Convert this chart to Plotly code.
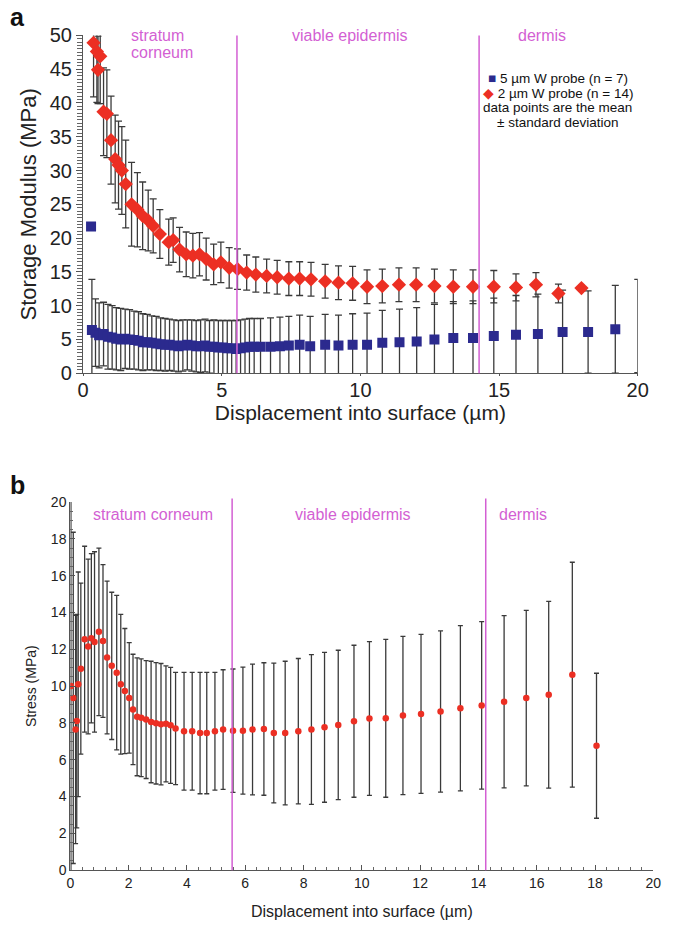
import plotly.graph_objects as go

# ---------------- data: panel a (storage modulus) ----------------
red_x = [0.38, 0.50, 0.54, 0.62, 0.74, 0.86, 1.01, 1.16, 1.28, 1.40, 1.54, 1.75, 1.96, 2.15, 2.35, 2.53,
         2.77, 3.09, 3.25, 3.48, 3.72, 3.96, 4.20, 4.44, 4.71, 4.97, 5.27, 5.57, 5.90, 6.23, 6.62, 7.00,
         7.42, 7.81, 8.22, 8.73, 9.21, 9.72, 10.24, 10.79, 11.39, 12.01, 12.67, 13.35, 14.06, 14.81,
         15.61, 16.33, 17.14, 17.97]
red_mean = [48.9, 47.6, 44.9, 46.9, 38.7, 38.4, 34.5, 31.7, 30.8, 30.0, 28.0, 25.0, 24.2, 23.3, 22.6, 21.8,
            20.6, 19.4, 19.7, 18.3, 17.6, 17.4, 17.6, 16.9, 16.1, 16.4, 15.6, 15.4, 14.9, 14.6, 14.4, 14.2,
            14.0, 14.0, 13.9, 13.6, 13.4, 13.3, 12.8, 12.9, 13.1, 13.1, 12.9, 12.8, 12.8, 12.8,
            12.7, 13.1, 11.8, 12.6]
red_sd = [8.0, 7.5, 5.0, 7.0, 6.5, 6.5, 6.5, 6.5, 6.5, 6.5, 6.5, 6.2, 5.5, 5.0, 4.5, 4.0,
          3.6, 3.4, 3.3, 3.3, 3.3, 3.3, 3.2, 3.1, 3.0, 3.0, 3.0, 3.0, 2.6, 2.6, 2.5, 2.5,
          2.5, 2.5, 2.5, 2.5, 2.5, 2.5, 2.5, 2.5, 2.5, 2.5, 2.5, 2.5, 2.5, 2.4,
          2.0, 1.8, 1.4, 0.4]

blue_x = [0.29, 0.32, 0.45, 0.58, 0.74, 0.90, 1.05, 1.20, 1.36, 1.52, 1.68, 1.84, 2.00, 2.16, 2.32, 2.48,
          2.64, 2.80, 2.96, 3.12, 3.28, 3.44, 3.60, 3.76, 3.92, 4.08, 4.24, 4.40, 4.56, 4.72, 4.88, 5.04,
          5.20, 5.36, 5.52, 5.68, 5.84, 6.00, 6.17, 6.40, 6.76, 7.10, 7.42, 7.81, 8.19, 8.73, 9.21, 9.72,
          10.24, 10.79, 11.41, 12.03, 12.67, 13.35, 14.06, 14.81, 15.61, 16.40, 17.29, 18.21, 19.19]
blue_mean = [21.7, 6.4, 6.0, 5.6, 5.8, 5.4, 5.3, 5.1, 5.0, 5.1, 5.0, 4.9, 4.8, 4.6, 4.6, 4.5,
             4.4, 4.3, 4.2, 4.2, 4.1, 4.0, 4.1, 4.2, 4.1, 4.0, 4.0, 4.1, 3.9, 3.9, 3.8, 3.8,
             3.7, 3.7, 3.6, 3.7, 3.8, 3.9, 3.9, 3.9, 3.9, 4.0, 4.1, 4.2, 4.0, 4.2, 4.1, 4.2,
             4.2, 4.5, 4.6, 4.7, 5.0, 5.2, 5.2, 5.5, 5.7, 5.8, 6.1, 6.1, 6.5]
blue_sd = [0.0, 7.5, 5.0, 4.8, 4.7, 4.8, 4.7, 4.6, 4.6, 4.4, 4.4, 4.3, 4.3, 4.2, 4.1, 4.0,
           4.0, 3.9, 3.9, 3.8, 3.8, 3.8, 3.8, 3.7, 3.8, 3.8, 3.9, 3.9, 3.9, 4.0, 4.0, 4.0,
           4.1, 4.1, 4.2, 4.2, 4.2, 4.2, 4.2, 4.2, 4.3, 4.3, 4.3, 4.4, 4.4, 4.5, 4.5, 4.6,
           4.7, 4.8, 4.9, 5.0, 5.2, 5.4, 5.5, 5.6, 5.8, 5.9, 6.2, 6.1, 6.5]
# last 5 µm reading at the axis end: only its error bar is visible in the figure
blue_edge_x = [20.0]
blue_edge_mean = [7.0]
blue_edge_sd = [6.9]

# ---------------- data: panel b (stress) ----------------
stress_x = [0.02, 0.10, 0.18, 0.22, 0.27, 0.36, 0.49, 0.61, 0.72, 0.83, 0.98, 1.12, 1.26, 1.42, 1.59,
            1.73, 1.87, 2.02, 2.15, 2.29, 2.43, 2.60, 2.77, 2.94, 3.11, 3.28, 3.44, 3.61, 3.90, 4.18,
            4.45, 4.68, 4.96, 5.24, 5.58, 5.92, 6.25, 6.64, 6.98, 7.37, 7.82, 8.27, 8.72, 9.19, 9.73,
            10.26, 10.82, 11.41, 12.03, 12.70, 13.38, 14.11, 14.88, 15.64, 16.41, 17.22, 18.05]
stress_mean = [10.0, 9.36, 7.64, 8.1, 10.1, 10.95, 12.55, 12.15, 12.6, 12.4, 12.95, 12.45, 11.55, 11.1, 10.73,
               10.1, 9.73, 9.36, 8.73, 8.33, 8.28, 8.18, 8.05, 7.98, 7.93, 7.95, 7.87, 7.7, 7.55, 7.55,
               7.45, 7.45, 7.55, 7.64, 7.58, 7.58, 7.64, 7.67, 7.45, 7.45, 7.55, 7.64, 7.76, 7.89, 8.09,
               8.24, 8.25, 8.4, 8.49, 8.62, 8.8, 8.95, 9.15, 9.35, 9.53, 10.62, 6.76]
stress_sd = [10.2, 9.0, 6.2, 5.8, 6.1, 4.65, 5.05, 4.75, 4.6, 4.9, 4.55, 4.15, 4.15, 4.0, 4.2,
             3.8, 3.4, 3.0, 3.0, 3.2, 3.2, 3.2, 3.3, 3.3, 3.3, 3.15, 3.15, 3.05, 3.2, 3.2,
             3.3, 3.3, 3.2, 3.25, 3.35, 3.45, 3.55, 3.6, 3.8, 3.9, 3.95, 4.07, 4.07, 4.06, 4.13,
             4.18, 4.29, 4.3, 4.32, 4.38, 4.49, 4.55, 4.68, 4.77, 5.07, 6.11, 3.94]

top_layer_bounds = [5.55, 14.28]
bottom_layer_bounds = [5.55, 14.25]
top_zone_labels = ["stratum", "corneum", "viable epidermis", "dermis"]
top_zone_x = [1.65, 1.65, 7.45, 15.6]
top_zone_row = [0, 1, 0, 0]
bottom_zone_labels = ["stratum corneum", "viable epidermis", "dermis"]
bottom_zone_x = [0.72, 7.65, 14.65]

series_names = ["5 µm W probe (n = 7)", "2 µm W probe (n = 14)"]
legend_note = ["data points are the mean", "± standard deviation"]

FONT = "Liberation Sans, Arial, sans-serif"
RED = "#ec2f23"
BLUE = "#2b2a8e"
BAR = "#3a3a3a"
PINK = "#d35fd3"

fig = go.Figure()

fig.add_trace(go.Scatter(
    x=blue_edge_x, y=blue_edge_mean, mode="markers", name=series_names[0],
    marker=dict(symbol="square", size=10, color=BLUE, opacity=0),
    error_y=dict(type="data", array=blue_edge_sd, color=BAR, thickness=1.3, width=3.5),
    xaxis="x", yaxis="y", showlegend=False, hoverinfo="skip"))
fig.add_trace(go.Scatter(
    x=blue_x, y=blue_mean, mode="markers", name=series_names[0],
    marker=dict(symbol="square", size=10, color=BLUE),
    error_y=dict(type="data", array=blue_sd, color=BAR, thickness=1.3, width=3.5),
    xaxis="x", yaxis="y", showlegend=False))
fig.add_trace(go.Scatter(
    x=red_x, y=red_mean, mode="markers", name=series_names[1],
    marker=dict(symbol="diamond", size=11, color=RED),
    error_y=dict(type="data", array=red_sd, color=BAR, thickness=1.3, width=3.5),
    xaxis="x", yaxis="y", showlegend=False))
fig.add_trace(go.Scatter(
    x=stress_x, y=stress_mean, mode="markers", name="Stress",
    marker=dict(symbol="circle", size=6.5, color=RED),
    error_y=dict(type="data", array=stress_sd, color=BAR, thickness=1.3, width=2.5),
    xaxis="x2", yaxis="y2", showlegend=False))

W, H = 678, 928
def px(v):
    return v / W
def py(v):
    return (H - v) / H

axis_common = dict(showgrid=False, zeroline=False, showline=True, linecolor="#555", linewidth=1.2,
                   color="#222")

fig.update_layout(
    width=W, height=H, margin=dict(l=0, r=0, t=0, b=0),
    paper_bgcolor="white", plot_bgcolor="white",
    font=dict(family=FONT, color="#222"),
    showlegend=False,
    xaxis=dict(domain=[px(79), px(648)], anchor="y", range=[0, 20], tickvals=[0, 5, 10, 15, 20],
               ticks="outside", ticklen=2, tickcolor="#555", tickfont=dict(size=20),
               ticklabelstandoff=-3,
               title=dict(text="Displacement into surface (µm)", font=dict(size=21), standoff=0),
               **axis_common),
    yaxis=dict(domain=[py(371), py(25)], anchor="x", range=[0, 50], tickvals=list(range(0, 51, 5)),
               ticks="outside", ticklen=6, tickcolor="#555", tickfont=dict(size=20),
               minor=dict(dtick=0.5, ticks="outside", ticklen=5, tickcolor="#666"),
               title=dict(text="Storage Modulus (MPa)", font=dict(size=22), standoff=6),
               **axis_common),
    xaxis2=dict(domain=[px(66), px(664)], anchor="y2", range=[0, 20], tickvals=list(range(0, 21, 2)),
                ticks="inside", ticklen=5, tickcolor="#555", tickfont=dict(size=14),
                minor=dict(dtick=0.4, ticks="inside", ticklen=3, tickcolor="#666"),
                title=dict(text="Displacement into surface (µm)", font=dict(size=16), standoff=15),
                **axis_common),
    yaxis2=dict(domain=[py(880), py(503)], anchor="x2", range=[0, 20], tickvals=list(range(0, 21, 2)),
                ticks="inside", ticklen=5, tickcolor="#555", tickfont=dict(size=14),
                minor=dict(dtick=0.5, ticks="inside", ticklen=3, tickcolor="#666"),
                title=dict(text="Stress (MPa)", font=dict(size=14), standoff=10),
                **axis_common),
)

shapes = []
for b in top_layer_bounds:
    shapes.append(dict(type="line", xref="x", yref="y domain", x0=b, x1=b, y0=0, y1=1,
                       line=dict(color=PINK, width=1.5)))
for b in bottom_layer_bounds:
    shapes.append(dict(type="line", xref="x2", yref="y2 domain", x0=b, x1=b, y0=0, y1=1.01,
                       line=dict(color=PINK, width=1.5)))
fig.update_layout(shapes=shapes)

ann = []
for t, xv, r in zip(top_zone_labels, top_zone_x, top_zone_row):
    ann.append(dict(text=t, x=xv, xref="x", y=py(25 + 18 * r), yref="paper", xanchor="left",
                    yanchor="middle", showarrow=False, font=dict(size=16, color=PINK)))
for t, xv in zip(bottom_zone_labels, bottom_zone_x):
    ann.append(dict(text=t, x=xv, xref="x2", y=py(516), yref="paper", xanchor="left", yanchor="middle",
                    showarrow=False, font=dict(size=16, color=PINK)))

# legend block: one text line per row
legend_lines = [
    f"<span style='color:{BLUE}'>■</span> {series_names[0]}",
    f"<span style='color:{RED}'>◆</span> {series_names[1]}",
    legend_note[0],
    legend_note[1],
]
for i, t in enumerate(legend_lines):
    ann.append(dict(text=t, x=px(566), xref="paper", y=py(69 + 15 * i), yref="paper", xanchor="center",
                    yanchor="middle", showarrow=False, font=dict(size=13.5, color="#111")))

ann.append(dict(text="<b>a</b>", x=px(2), y=py(6), xref="paper", yref="paper", xanchor="left",
                yanchor="middle", showarrow=False, font=dict(size=25, color="#111")))
ann.append(dict(text="<b>b</b>", x=px(2), y=py(485), xref="paper", yref="paper", xanchor="left",
                yanchor="middle", showarrow=False, font=dict(size=25, color="#111")))
fig.update_layout(annotations=ann)

fig.write_html("out.html")
